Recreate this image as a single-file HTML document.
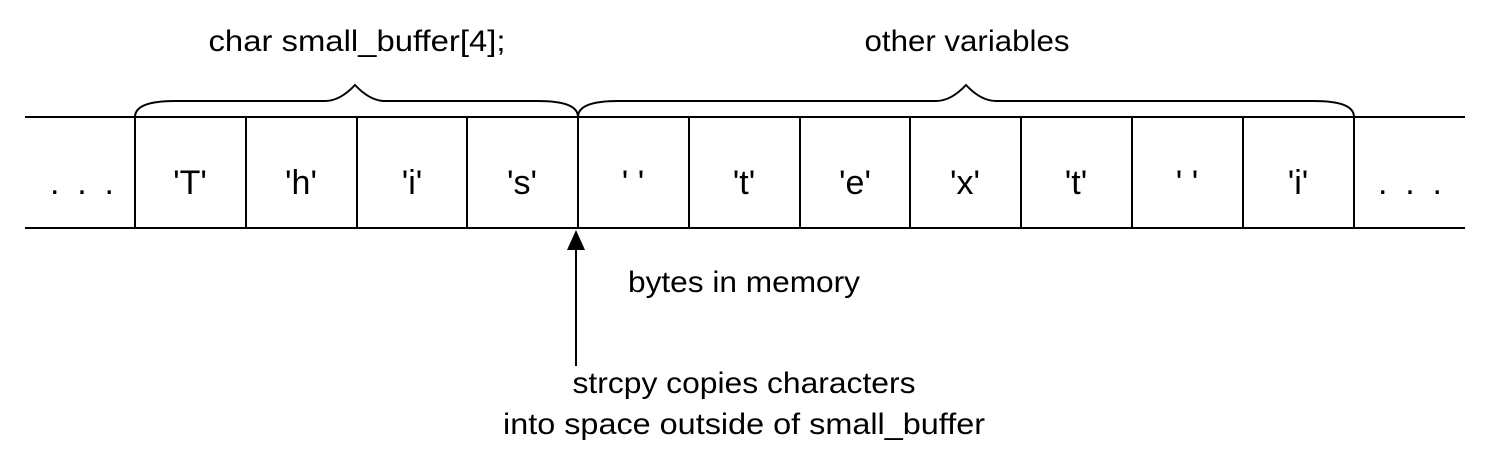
<!DOCTYPE html>
<html><head><meta charset="utf-8"><style>
html,body{margin:0;padding:0;background:#fff;}
svg{display:block}
text{font-family:"Liberation Sans",sans-serif;fill:#000;}
</style></head><body>
<svg width="1489" height="469" viewBox="0 0 1489 469" xmlns="http://www.w3.org/2000/svg">
<g stroke="#000" stroke-width="2" fill="none">
<line x1="25" y1="117" x2="1465" y2="117"/>
<line x1="25" y1="228" x2="1465" y2="228"/>
<line x1="135" y1="117" x2="135" y2="228"/>
<line x1="246" y1="117" x2="246" y2="228"/>
<line x1="357" y1="117" x2="357" y2="228"/>
<line x1="467" y1="117" x2="467" y2="228"/>
<line x1="578" y1="117" x2="578" y2="228"/>
<line x1="689" y1="117" x2="689" y2="228"/>
<line x1="800" y1="117" x2="800" y2="228"/>
<line x1="910" y1="117" x2="910" y2="228"/>
<line x1="1021" y1="117" x2="1021" y2="228"/>
<line x1="1132" y1="117" x2="1132" y2="228"/>
<line x1="1243" y1="117" x2="1243" y2="228"/>
<line x1="1354" y1="117" x2="1354" y2="228"/>
<path d="M135,117 Q135,101 175,101 L325,101 Q340,101 355,85 Q370,101 385,101 L538,101 Q578,101 578,117"/>
<path d="M578,117 Q578,101 618,101 L936,101 Q951,101 966,85 Q981,101 996,101 L1314,101 Q1354,101 1354,117"/>
<line x1="576" y1="248" x2="576" y2="366"/>
</g>
<polygon points="576,230 567,250 585,250" fill="#000"/>
<g font-size="30" text-anchor="middle" lengthAdjust="spacingAndGlyphs">
<text x="357" y="51" textLength="297" lengthAdjust="spacingAndGlyphs">char small_buffer[4];</text>
<text x="967" y="51" textLength="205" lengthAdjust="spacingAndGlyphs">other variables</text>
<text x="744" y="292" textLength="232" lengthAdjust="spacingAndGlyphs">bytes in memory</text>
<text x="744" y="393" textLength="343" lengthAdjust="spacingAndGlyphs">strcpy copies characters</text>
<text x="744" y="434" textLength="482" lengthAdjust="spacingAndGlyphs">into space outside of small_buffer</text>
</g>
<g font-size="34" text-anchor="middle">
<text x="82" y="194" textLength="64" lengthAdjust="spacing">. . .</text>
<text x="190" y="194">'T'</text>
<text x="301" y="194">'h'</text>
<text x="412" y="194">'i'</text>
<text x="522" y="194">'s'</text>
<text x="633" y="194">' '</text>
<text x="744" y="194">'t'</text>
<text x="855" y="194">'e'</text>
<text x="965" y="194">'x'</text>
<text x="1076" y="194">'t'</text>
<text x="1187" y="194">' '</text>
<text x="1298" y="194">'i'</text>
<text x="1410" y="194" textLength="64" lengthAdjust="spacing">. . .</text>
</g>
</svg>
</body></html>
